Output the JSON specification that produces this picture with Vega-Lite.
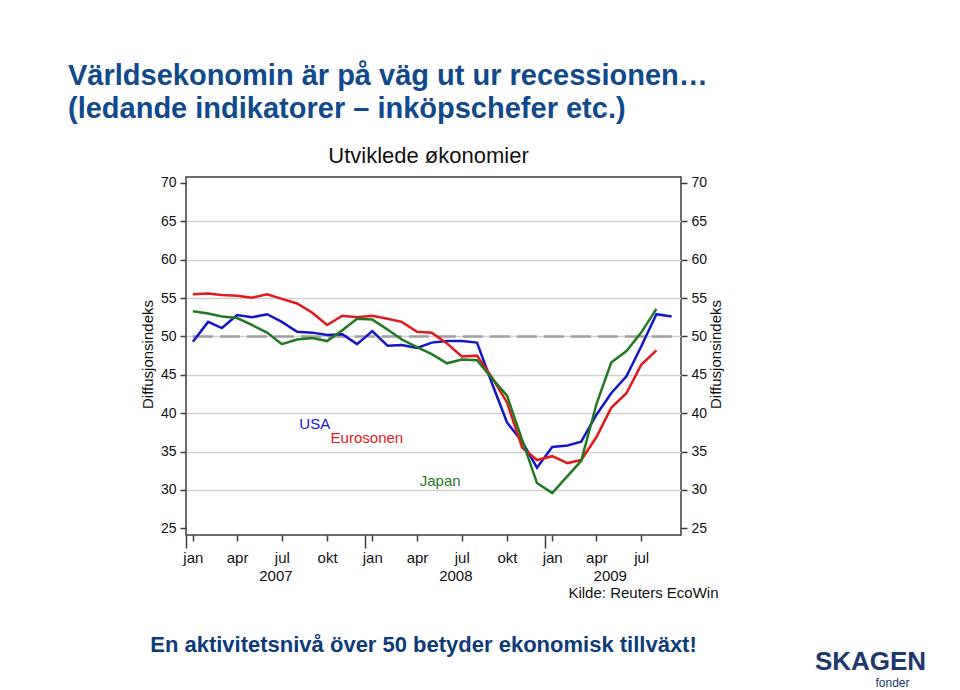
{
  "$schema": "https://vega.github.io/schema/vega-lite/v6.json",
  "width": 495,
  "height": 358,
  "autosize": {"type": "none"},
  "padding": {"left": 186, "top": 177, "right": 279, "bottom": 155},
  "background": "white",
  "config": {
    "font": "Liberation Sans",
    "view": {"stroke": "#3c3c3c", "strokeWidth": 1.5}
  },
  "title": {
    "text": ["Världsekonomin är på väg ut ur recessionen…", "(ledande indikatorer – inköpschefer etc.)"],
    "anchor": "start",
    "frame": "group",
    "dx": -118,
    "offset": 20,
    "font": "Liberation Sans",
    "fontSize": 29,
    "fontWeight": "bold",
    "color": "#104a8c",
    "lineHeight": 33
  },
  "data": {
    "values": [
      {"date": "2007/01/15", "series": "USA", "value": 49.3},
      {"date": "2007/02/15", "series": "USA", "value": 51.9},
      {"date": "2007/03/15", "series": "USA", "value": 51.1},
      {"date": "2007/04/15", "series": "USA", "value": 52.8},
      {"date": "2007/05/15", "series": "USA", "value": 52.5},
      {"date": "2007/06/15", "series": "USA", "value": 52.9},
      {"date": "2007/07/15", "series": "USA", "value": 51.9},
      {"date": "2007/08/15", "series": "USA", "value": 50.6},
      {"date": "2007/09/15", "series": "USA", "value": 50.5},
      {"date": "2007/10/15", "series": "USA", "value": 50.2},
      {"date": "2007/11/15", "series": "USA", "value": 50.3},
      {"date": "2007/12/15", "series": "USA", "value": 49.0},
      {"date": "2008/01/15", "series": "USA", "value": 50.7},
      {"date": "2008/02/15", "series": "USA", "value": 48.8},
      {"date": "2008/03/15", "series": "USA", "value": 48.9},
      {"date": "2008/04/15", "series": "USA", "value": 48.5},
      {"date": "2008/05/15", "series": "USA", "value": 49.2},
      {"date": "2008/06/15", "series": "USA", "value": 49.4},
      {"date": "2008/07/15", "series": "USA", "value": 49.4},
      {"date": "2008/08/15", "series": "USA", "value": 49.2},
      {"date": "2008/09/15", "series": "USA", "value": 43.8},
      {"date": "2008/10/15", "series": "USA", "value": 38.8},
      {"date": "2008/11/15", "series": "USA", "value": 36.3},
      {"date": "2008/12/15", "series": "USA", "value": 32.9},
      {"date": "2009/01/15", "series": "USA", "value": 35.6},
      {"date": "2009/02/15", "series": "USA", "value": 35.8},
      {"date": "2009/03/15", "series": "USA", "value": 36.3},
      {"date": "2009/04/15", "series": "USA", "value": 39.8},
      {"date": "2009/05/15", "series": "USA", "value": 42.6},
      {"date": "2009/06/15", "series": "USA", "value": 44.8},
      {"date": "2009/07/15", "series": "USA", "value": 48.7},
      {"date": "2009/08/15", "series": "USA", "value": 52.9},
      {"date": "2009/09/15", "series": "USA", "value": 52.6},
      {"date": "2007/01/15", "series": "Eurosonen", "value": 55.5},
      {"date": "2007/02/15", "series": "Eurosonen", "value": 55.6},
      {"date": "2007/03/15", "series": "Eurosonen", "value": 55.4},
      {"date": "2007/04/15", "series": "Eurosonen", "value": 55.3},
      {"date": "2007/05/15", "series": "Eurosonen", "value": 55.05},
      {"date": "2007/06/15", "series": "Eurosonen", "value": 55.5},
      {"date": "2007/07/15", "series": "Eurosonen", "value": 54.9},
      {"date": "2007/08/15", "series": "Eurosonen", "value": 54.3},
      {"date": "2007/09/15", "series": "Eurosonen", "value": 53.1},
      {"date": "2007/10/15", "series": "Eurosonen", "value": 51.5},
      {"date": "2007/11/15", "series": "Eurosonen", "value": 52.7},
      {"date": "2007/12/15", "series": "Eurosonen", "value": 52.5},
      {"date": "2008/01/15", "series": "Eurosonen", "value": 52.7},
      {"date": "2008/02/15", "series": "Eurosonen", "value": 52.3},
      {"date": "2008/03/15", "series": "Eurosonen", "value": 51.9},
      {"date": "2008/04/15", "series": "Eurosonen", "value": 50.6},
      {"date": "2008/05/15", "series": "Eurosonen", "value": 50.5},
      {"date": "2008/06/15", "series": "Eurosonen", "value": 49.1},
      {"date": "2008/07/15", "series": "Eurosonen", "value": 47.4},
      {"date": "2008/08/15", "series": "Eurosonen", "value": 47.5},
      {"date": "2008/09/15", "series": "Eurosonen", "value": 44.6},
      {"date": "2008/10/15", "series": "Eurosonen", "value": 41.4},
      {"date": "2008/11/15", "series": "Eurosonen", "value": 35.5},
      {"date": "2008/12/15", "series": "Eurosonen", "value": 33.9},
      {"date": "2009/01/15", "series": "Eurosonen", "value": 34.4},
      {"date": "2009/02/15", "series": "Eurosonen", "value": 33.5},
      {"date": "2009/03/15", "series": "Eurosonen", "value": 33.9},
      {"date": "2009/04/15", "series": "Eurosonen", "value": 36.9},
      {"date": "2009/05/15", "series": "Eurosonen", "value": 40.7},
      {"date": "2009/06/15", "series": "Eurosonen", "value": 42.6},
      {"date": "2009/07/15", "series": "Eurosonen", "value": 46.3},
      {"date": "2009/08/15", "series": "Eurosonen", "value": 48.2},
      {"date": "2007/01/15", "series": "Japan", "value": 53.3},
      {"date": "2007/02/15", "series": "Japan", "value": 53.0},
      {"date": "2007/03/15", "series": "Japan", "value": 52.6},
      {"date": "2007/04/15", "series": "Japan", "value": 52.4},
      {"date": "2007/05/15", "series": "Japan", "value": 51.5},
      {"date": "2007/06/15", "series": "Japan", "value": 50.5},
      {"date": "2007/07/15", "series": "Japan", "value": 49.0},
      {"date": "2007/08/15", "series": "Japan", "value": 49.6},
      {"date": "2007/09/15", "series": "Japan", "value": 49.8},
      {"date": "2007/10/15", "series": "Japan", "value": 49.4},
      {"date": "2007/11/15", "series": "Japan", "value": 50.8},
      {"date": "2007/12/15", "series": "Japan", "value": 52.3},
      {"date": "2008/01/15", "series": "Japan", "value": 52.2},
      {"date": "2008/02/15", "series": "Japan", "value": 50.9},
      {"date": "2008/03/15", "series": "Japan", "value": 49.6},
      {"date": "2008/04/15", "series": "Japan", "value": 48.6},
      {"date": "2008/05/15", "series": "Japan", "value": 47.7},
      {"date": "2008/06/15", "series": "Japan", "value": 46.5},
      {"date": "2008/07/15", "series": "Japan", "value": 47.0},
      {"date": "2008/08/15", "series": "Japan", "value": 46.9},
      {"date": "2008/09/15", "series": "Japan", "value": 44.5},
      {"date": "2008/10/15", "series": "Japan", "value": 42.3},
      {"date": "2008/11/15", "series": "Japan", "value": 36.5},
      {"date": "2008/12/15", "series": "Japan", "value": 30.9},
      {"date": "2009/01/15", "series": "Japan", "value": 29.6},
      {"date": "2009/02/15", "series": "Japan", "value": 31.8},
      {"date": "2009/03/15", "series": "Japan", "value": 33.8},
      {"date": "2009/04/15", "series": "Japan", "value": 41.2},
      {"date": "2009/05/15", "series": "Japan", "value": 46.6},
      {"date": "2009/06/15", "series": "Japan", "value": 48.1},
      {"date": "2009/07/15", "series": "Japan", "value": 50.5},
      {"date": "2009/08/15", "series": "Japan", "value": 53.6}
    ]
  },
  "resolve": {"axis": {"x": "independent", "y": "independent"}},
  "layer": [
    {
      "transform": [{"filter": "datum.series == 'USA'"}],
      "mark": {"type": "line", "color": "#a0a0a0", "strokeWidth": 2.5, "strokeDash": [20, 7]},
      "encoding": {
        "x": {
          "field": "date", "type": "temporal",
          "scale": {"domain": [{"year": 2007, "month": 1, "date": 1}, {"year": 2009, "month": 10, "date": 4}]},
          "axis": {"orient": "top", "title": "Utviklede økonomier", "titleFontSize": 22, "titleFontWeight": "normal", "titleColor": "#111111", "titleX": 242, "titleY": -15, "titleAlign": "center", "titleBaseline": "alphabetic", "labels": false, "ticks": false, "domain": false, "grid": false}
        },
        "y": {
          "datum": 50,
          "scale": {"domain": [24.13, 70.78], "nice": false, "zero": false},
          "axis": {"orient": "right", "values": [25, 30, 35, 40, 45, 50, 55, 60, 65, 70], "title": "Diffusjonsindeks", "titleFontSize": 15, "titleFontWeight": "normal", "titleColor": "#111111", "titleX": 27, "titleY": 177, "titleAlign": "center", "titleBaseline": "top", "titleAngle": 270, "labelFontSize": 14, "labelColor": "#111111", "labelPadding": 4, "labelFlush": false, "tickSize": 6, "tickColor": "#3c3c3c", "tickWidth": 1.5, "domain": false, "grid": false}
        }
      }
    },
    {
      "mark": {"type": "line", "strokeWidth": 2.5},
      "encoding": {
        "x": {
          "field": "date", "type": "temporal",
          "scale": {"domain": [{"year": 2007, "month": 1, "date": 1}, {"year": 2009, "month": 10, "date": 4}]},
          "axis": {
            "orient": "bottom", "title": null,
            "values": [
              {"year": 2007, "month": 1, "date": 1}, {"year": 2007, "month": 1, "date": 15}, {"year": 2007, "month": 4, "date": 15}, {"year": 2007, "month": 7, "date": 2}, {"year": 2007, "month": 7, "date": 15}, {"year": 2007, "month": 10, "date": 15},
              {"year": 2008, "month": 1, "date": 1}, {"year": 2008, "month": 1, "date": 15}, {"year": 2008, "month": 4, "date": 15}, {"year": 2008, "month": 7, "date": 2}, {"year": 2008, "month": 7, "date": 15}, {"year": 2008, "month": 10, "date": 15},
              {"year": 2009, "month": 1, "date": 1}, {"year": 2009, "month": 1, "date": 15}, {"year": 2009, "month": 4, "date": 15}, {"year": 2009, "month": 5, "date": 12}, {"year": 2009, "month": 7, "date": 15}
            ],
            "labelExpr": "date(datum.value) == 15 ? (month(datum.value) == 0 ? 'jan' : month(datum.value) == 3 ? 'apr' : month(datum.value) == 6 ? 'jul' : 'okt') : date(datum.value) == 1 ? '' : ['', timeFormat(datum.value, '%Y')]",
            "grid": false, "domain": false,
            "tickColor": "#3c3c3c", "tickWidth": 1.5,
            "tickSize": {"condition": {"test": "date(datum.value) == 1", "value": 13}, "value": 6},
            "tickOpacity": {"condition": {"test": "date(datum.value) != 1 && date(datum.value) != 15", "value": 0}, "value": 1},
            "labelFontSize": 15, "labelColor": "#111111", "labelPadding": 9, "labelBaseline": "top", "labelLineHeight": 18,
            "labelOverlap": false, "labelFlush": false, "labelBound": false
          }
        },
        "y": {
          "field": "value", "type": "quantitative",
          "scale": {"domain": [24.13, 70.78], "nice": false, "zero": false},
          "axis": {"orient": "left", "values": [25, 30, 35, 40, 45, 50, 55, 60, 65, 70], "title": "Diffusjonsindeks", "titleFontSize": 15, "titleFontWeight": "normal", "titleColor": "#111111", "titleX": -31, "titleY": 177, "titleAlign": "center", "titleBaseline": "bottom", "titleAngle": 270, "labelFontSize": 14, "labelColor": "#111111", "labelPadding": 4, "labelFlush": false, "tickSize": 6, "tickColor": "#3c3c3c", "tickWidth": 1.5, "domain": false, "grid": true, "gridColor": "#d0d0d0", "gridWidth": 1.5, "gridOpacity": {"condition": {"test": "datum.value == 25 || datum.value == 70", "value": 0}, "value": 1}}
        },
        "color": {
          "field": "series", "type": "nominal",
          "scale": {"domain": ["Eurosonen", "Japan", "USA"], "range": ["#e0191b", "#1f7a1f", "#1414c8"]},
          "legend": null
        }
      }
    },
    {
      "data": {"values": [{"label": "USA"}]},
      "mark": {"type": "text", "fontSize": 15, "align": "center", "baseline": "middle", "color": "#1414c8"},
      "encoding": {
        "text": {"field": "label"},
        "x": {
          "datum": {"year": 2007, "month": 9, "date": 20}, "type": "temporal",
          "scale": {"domain": [{"year": 2007, "month": 1, "date": 1}, {"year": 2009, "month": 10, "date": 4}]},
          "axis": {"orient": "bottom", "title": "Kilde: Reuters EcoWin", "titleFontSize": 15, "titleFontWeight": "normal", "titleColor": "#111111", "titleX": 532, "titleY": 62, "titleAlign": "right", "titleBaseline": "alphabetic", "labels": false, "ticks": false, "domain": false, "grid": false}
        },
        "y": {"datum": 38.6, "scale": {"domain": [24.13, 70.78], "nice": false, "zero": false}, "axis": null}
      }
    },
    {
      "data": {"values": [{"label": "Eurosonen"}]},
      "mark": {"type": "text", "fontSize": 15, "align": "center", "baseline": "middle", "color": "#e0191b"},
      "encoding": {
        "text": {"field": "label"},
        "x": {
          "datum": {"year": 2008, "month": 1, "date": 4}, "type": "temporal",
          "scale": {"domain": [{"year": 2007, "month": 1, "date": 1}, {"year": 2009, "month": 10, "date": 4}]},
          "axis": {"orient": "bottom", "title": "En aktivitetsnivå över 50 betyder ekonomisk tillväxt!", "titleFontSize": 22, "titleFontWeight": "bold", "titleColor": "#0d3b79", "titleX": 237, "titleY": 116, "titleAlign": "center", "titleBaseline": "alphabetic", "labels": false, "ticks": false, "domain": false, "grid": false}
        },
        "y": {"datum": 36.8, "scale": {"domain": [24.13, 70.78], "nice": false, "zero": false}, "axis": null}
      }
    },
    {
      "data": {"values": [{"label": "Japan"}]},
      "mark": {"type": "text", "fontSize": 15, "align": "center", "baseline": "middle", "color": "#1f7a1f"},
      "encoding": {
        "text": {"field": "label"},
        "x": {
          "datum": {"year": 2008, "month": 6, "date": 1}, "type": "temporal",
          "scale": {"domain": [{"year": 2007, "month": 1, "date": 1}, {"year": 2009, "month": 10, "date": 4}]},
          "axis": {"orient": "bottom", "title": "SKAGEN", "titleFontSize": 26, "titleFontWeight": "bold", "titleColor": "#1c3a6e", "titleX": 684, "titleY": 134, "titleAlign": "center", "titleBaseline": "alphabetic", "labels": false, "ticks": false, "domain": false, "grid": false}
        },
        "y": {
          "datum": 31.2, "scale": {"domain": [24.13, 70.78], "nice": false, "zero": false},
          "axis": {"orient": "left", "title": "fonder", "titleAngle": 0, "titleFontSize": 12, "titleFontWeight": "normal", "titleColor": "#1c3a6e", "titleX": 706, "titleY": 509, "titleAlign": "center", "titleBaseline": "alphabetic", "labels": false, "ticks": false, "domain": false, "grid": false}
        }
      }
    }
  ]
}
